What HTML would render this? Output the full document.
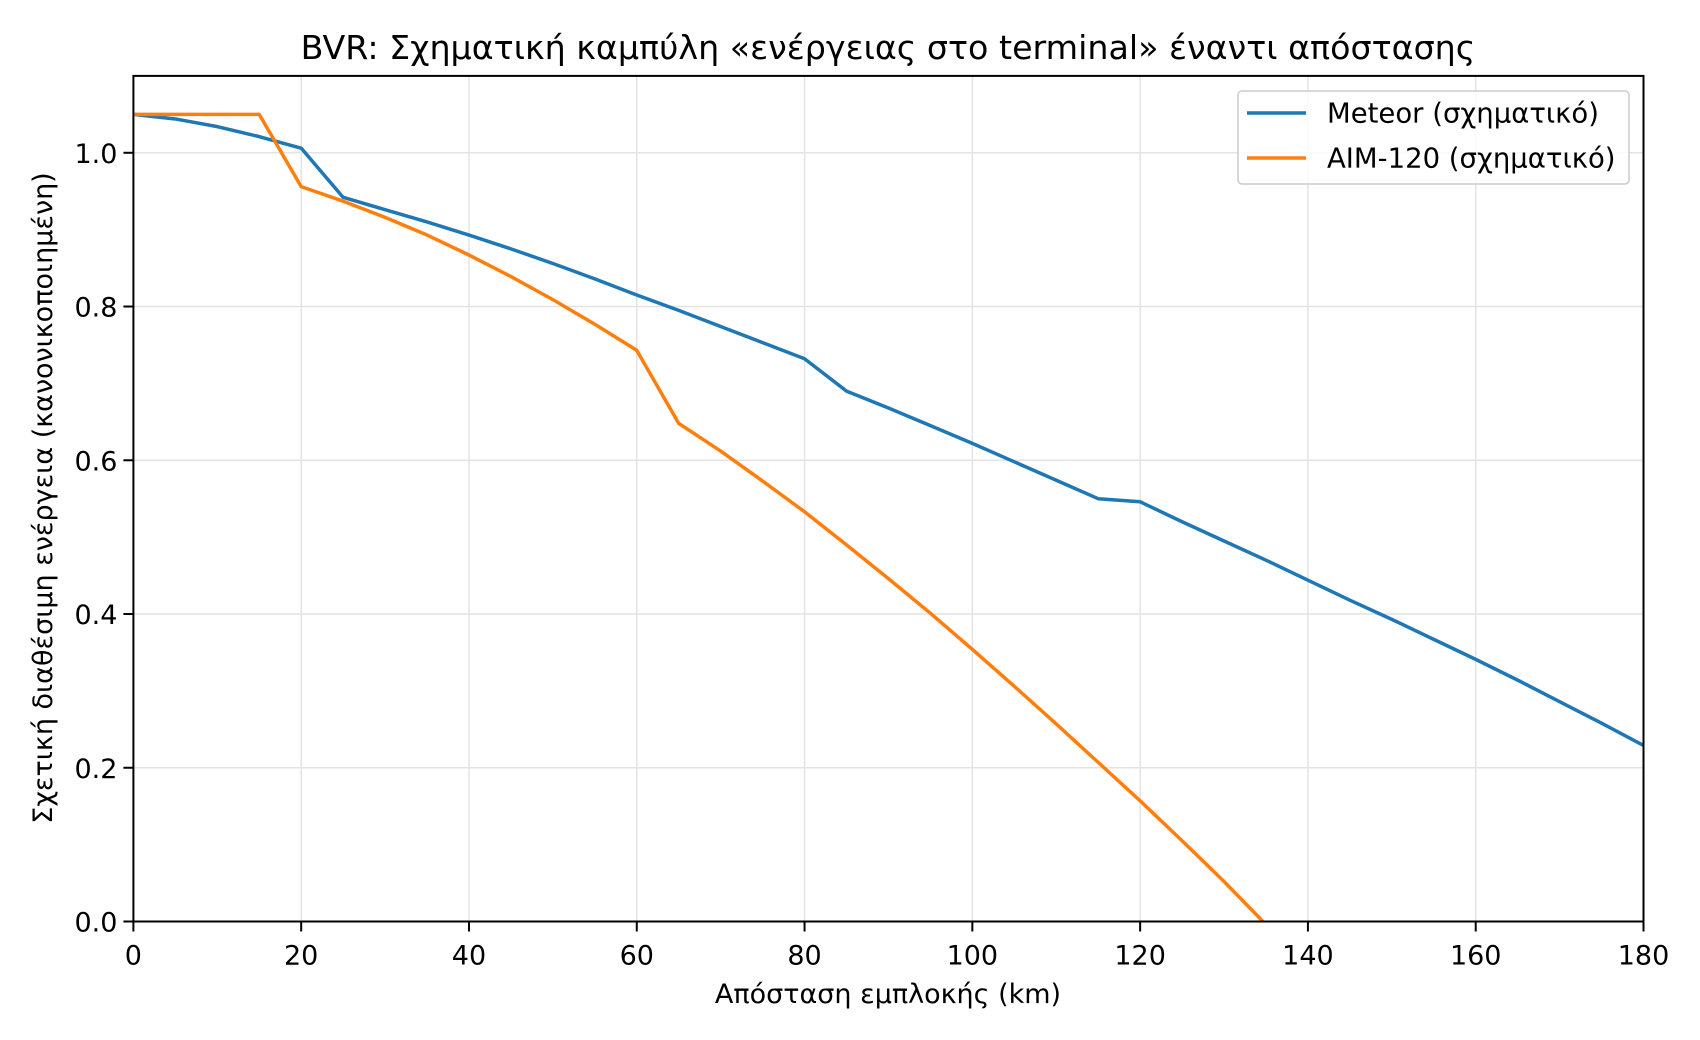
<!DOCTYPE html>
<html><head><meta charset="utf-8"><style>
body{margin:0;background:#fff;}
svg{display:block;font-family:"DejaVu Sans","Liberation Sans",sans-serif;}
</style></head><body>
<svg id="chart" width="1700" height="1040" viewBox="0 0 1700 1040">
<defs><clipPath id="plotclip"><rect x="133.4" y="75.9" width="1510.1" height="845.6"/></clipPath></defs>
<text x="888" y="59" text-anchor="middle" font-size="33.3" fill="#000">BVR: Σχηματική καμπύλη «ενέργειας στο terminal» έναντι απόστασης</text>
<g id="grid"></g>
<g id="series" clip-path="url(#plotclip)"></g>
<rect x="133.4" y="75.9" width="1510.1" height="845.6" fill="none" stroke="#000" stroke-width="2"/>
<g id="ticks"></g>
<text x="888" y="1003" text-anchor="middle" font-size="27">Απόσταση εμπλοκής (km)</text>
<text transform="translate(52,498) rotate(-90)" text-anchor="middle" font-size="27">Σχετική διαθέσιμη ενέργεια (κανονικοποιημένη)</text>
<g>
<rect x="1238" y="91" width="391" height="93" rx="4" fill="#fff" fill-opacity="0.8" stroke="#ccc" stroke-width="1.5"/>
<line x1="1247" y1="113" x2="1306" y2="113" stroke="#1f77b4" stroke-width="3.5"/>
<text x="1327" y="122.5" font-size="27.5">Meteor (σχηματικό)</text>
<line x1="1247" y1="158" x2="1306" y2="158" stroke="#ff7f0e" stroke-width="3.5"/>
<text x="1327" y="167.5" font-size="27.5">AIM-120 (σχηματικό)</text>
</g>
</svg>
<script>
const distances = [0,5,10,15,20,25,30,35,40,45,50,55,60,65,70,75,80,85,90,95,100,105,110,115,120,125,130,135,140,145,150,155,160,165,170,175,180];
const meteorValues = [1.05,1.044,1.034,1.021,1.006,0.942,0.926,0.910,0.893,0.875,0.856,0.836,0.815,0.795,0.774,0.753,0.732,0.690,0.668,0.645,0.622,0.598,0.574,0.550,0.546,0.520,0.495,0.470,0.444,0.418,0.393,0.367,0.341,0.314,0.286,0.258,0.229];
const aimDistances = [0,5,10,15,20,25,30,35,40,45,50,55,60,65,70,75,80,85,90,95,100,105,110,115,120,125,130,135];
const aimValues = [1.05,1.05,1.05,1.05,0.956,0.937,0.916,0.893,0.867,0.839,0.809,0.777,0.743,0.648,0.612,0.573,0.533,0.490,0.446,0.401,0.354,0.306,0.257,0.207,0.157,0.105,0.052,-0.004];
const xTicks = [0,20,40,60,80,100,120,140,160,180];
const yTicks = [0,0.2,0.4,0.6,0.8,1.0];
const yTickLabels = ["0.0","0.2","0.4","0.6","0.8","1.0"];
const X0=133.4,X1=1643.5,Y0=921.5,Y1=75.9,XMAX=180,YMAX=1.1;
const sx=v=>X0+(X1-X0)*v/XMAX, sy=v=>Y0-(Y0-Y1)*v/YMAX;
const NS='http://www.w3.org/2000/svg';
const mk=(t,a,p)=>{const e=document.createElementNS(NS,t);for(const k in a)e.setAttribute(k,a[k]);p.appendChild(e);return e;};
const grid=document.getElementById('grid'),ticks=document.getElementById('ticks'),series=document.getElementById('series');
xTicks.forEach(v=>{
 const g=mk('line',{x1:sx(v),x2:sx(v),y1:Y1,y2:Y0,stroke:'#e3e3e3','stroke-width':1.5},grid);
 
 
 const t=mk('line',{x1:sx(v),x2:sx(v),y1:Y0,y2:Y0+10,stroke:'#000','stroke-width':2},ticks);
 
 
 const l=mk('text',{x:sx(v),y:Y0+43,'text-anchor':'middle','font-size':27},ticks);
 l.textContent=v;
 
 
});
yTicks.forEach((v,i)=>{
 const g=mk('line',{x1:X0,x2:X1,y1:sy(v),y2:sy(v),stroke:'#e3e3e3','stroke-width':1.5},grid);
 
 
 const t=mk('line',{x1:X0-10,x2:X0,y1:sy(v),y2:sy(v),stroke:'#000','stroke-width':2},ticks);
 
 
 const l=mk('text',{x:X0-16,y:sy(v)+10,'text-anchor':'end','font-size':27},ticks);
 l.textContent=yTickLabels[i];
 
 
});
function line(xs,ys,color,name){
 const d=xs.map((x,i)=>(i?'L':'M')+sx(x).toFixed(2)+','+sy(ys[i]).toFixed(2)).join('');
 const p=mk('path',{d:d,fill:'none',stroke:color,'stroke-width':3.5,'stroke-linejoin':'round'},series);
 
 
}
line(distances,meteorValues,'#1f77b4','meteor-line');
line(aimDistances,aimValues,'#ff7f0e','aim120-line');
</script>
</body></html>
